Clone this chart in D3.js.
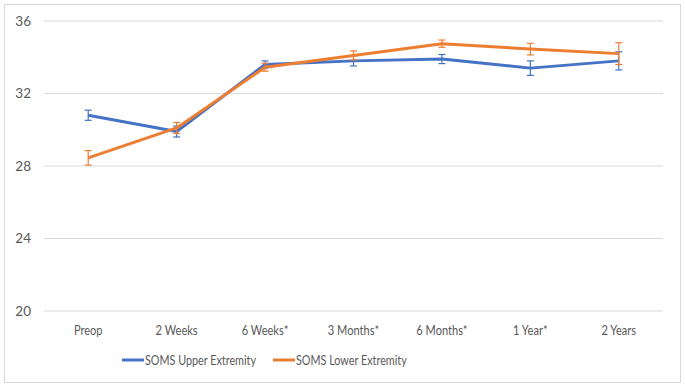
<!DOCTYPE html>
<html lang="en">
<head>
  <meta charset="UTF-8">
  <title>SOMS</title>
  <script src="https://d3js.org/d3.v7.min.js"></script>
  <style>
    body { margin: 0; background: #fff; }
    text { font-family: Lato, "Liberation Sans", sans-serif; fill: #595959; }
  </style>
</head>
<body>
  <div id="chart"></div>
  <script>
    const categories = ["Preop", "2 Weeks", "6 Weeks*", "3 Months*", "6 Months*", "1 Year*", "2 Years"];
    const upperValues = [30.8, 29.9, 33.6, 33.8, 33.9, 33.4, 33.8];
    const upperErrors = [0.28, 0.3, 0.2, 0.28, 0.25, 0.4, 0.5];
    const lowerValues = [28.45, 30.1, 33.45, 34.1, 34.75, 34.45, 34.2];
    const lowerErrors = [0.4, 0.3, 0.22, 0.25, 0.2, 0.32, 0.6];
    const yTicks = [20, 24, 28, 32, 36];
    const seriesNames = ["SOMS Upper Extremity", "SOMS Lower Extremity"];
    const colors = ["#4472C4", "#ED7D31"];

    const W = 685, H = 389;
    const svg = d3.select("#chart").append("svg")
      .attr("width", W).attr("height", H);

    // squeeze text a bit, the original font is narrower than Lato
    function condense(sel, f) {
      sel.each(function() {
        const w = this.getComputedTextLength();
        d3.select(this).attr("textLength", w * f).attr("lengthAdjust", "spacingAndGlyphs");
      });
    }

    svg.append("rect")
      .attr("x", 4.5).attr("y", 4.5)
      .attr("width", 676).attr("height", 378)
      .attr("fill", "#fff").attr("stroke", "#d9d9d9");

    const x = d3.scaleBand().domain(categories).range([44, 663]);
    const y = d3.scaleLinear().domain([20, 36]).range([311, 21]);

    // gridlines
    svg.selectAll(".grid").data(yTicks).enter().append("line")
      .attr("x1", 44).attr("x2", 663)
      .attr("y1", d => y(d)).attr("y2", d => y(d))
      .attr("stroke", "#d9d9d9").attr("stroke-width", 1);

    svg.selectAll(".ylab").data(yTicks).enter().append("text")
      .attr("x", 31).attr("y", d => y(d)).attr("dy", "0.35em")
      .attr("text-anchor", "end").attr("font-size", 13.5)
      .text(d => d);

    svg.selectAll(".xlab").data(categories).enter().append("text")
      .attr("x", d => x(d) + x.bandwidth() / 2).attr("y", 335)
      .attr("text-anchor", "middle").attr("font-size", 13.5)
      .text(d => d)
      .call(condense, 0.82);

    const series = [
      { values: upperValues, errors: upperErrors, color: colors[0] },
      { values: lowerValues, errors: lowerErrors, color: colors[1] }
    ];
    const line = d3.line()
      .x((d, i) => x(categories[i]) + x.bandwidth() / 2)
      .y(d => y(d));

    series.forEach(s => {
      const g = svg.append("g");
      g.append("path").datum(s.values)
        .attr("d", line).attr("fill", "none")
        .attr("stroke", s.color).attr("stroke-width", 3)
        .attr("stroke-linejoin", "round");
      const eb = g.selectAll(".eb").data(s.values).enter().append("g")
        .attr("stroke", s.color).attr("stroke-width", 1.2);
      const cx = (d, i) => x(categories[i]) + x.bandwidth() / 2;
      eb.append("line")
        .attr("x1", cx).attr("x2", cx)
        .attr("y1", (d, i) => y(d + s.errors[i])).attr("y2", (d, i) => y(d - s.errors[i]));
      eb.append("line")
        .attr("x1", (d, i) => cx(d, i) - 3.5).attr("x2", (d, i) => cx(d, i) + 3.5)
        .attr("y1", (d, i) => y(d + s.errors[i])).attr("y2", (d, i) => y(d + s.errors[i]));
      eb.append("line")
        .attr("x1", (d, i) => cx(d, i) - 3.5).attr("x2", (d, i) => cx(d, i) + 3.5)
        .attr("y1", (d, i) => y(d - s.errors[i])).attr("y2", (d, i) => y(d - s.errors[i]));
    });

    // legend
    const legendX = [122, 273];
    seriesNames.forEach((name, i) => {
      svg.append("line")
        .attr("x1", legendX[i]).attr("x2", legendX[i] + 22)
        .attr("y1", 360).attr("y2", 360)
        .attr("stroke", colors[i]).attr("stroke-width", 3);
      svg.append("text")
        .attr("x", legendX[i] + 23).attr("y", 360).attr("dy", "0.35em")
        .attr("font-size", 13.5).text(name)
        .call(condense, 0.8);
    });
  </script>
</body>
</html>
